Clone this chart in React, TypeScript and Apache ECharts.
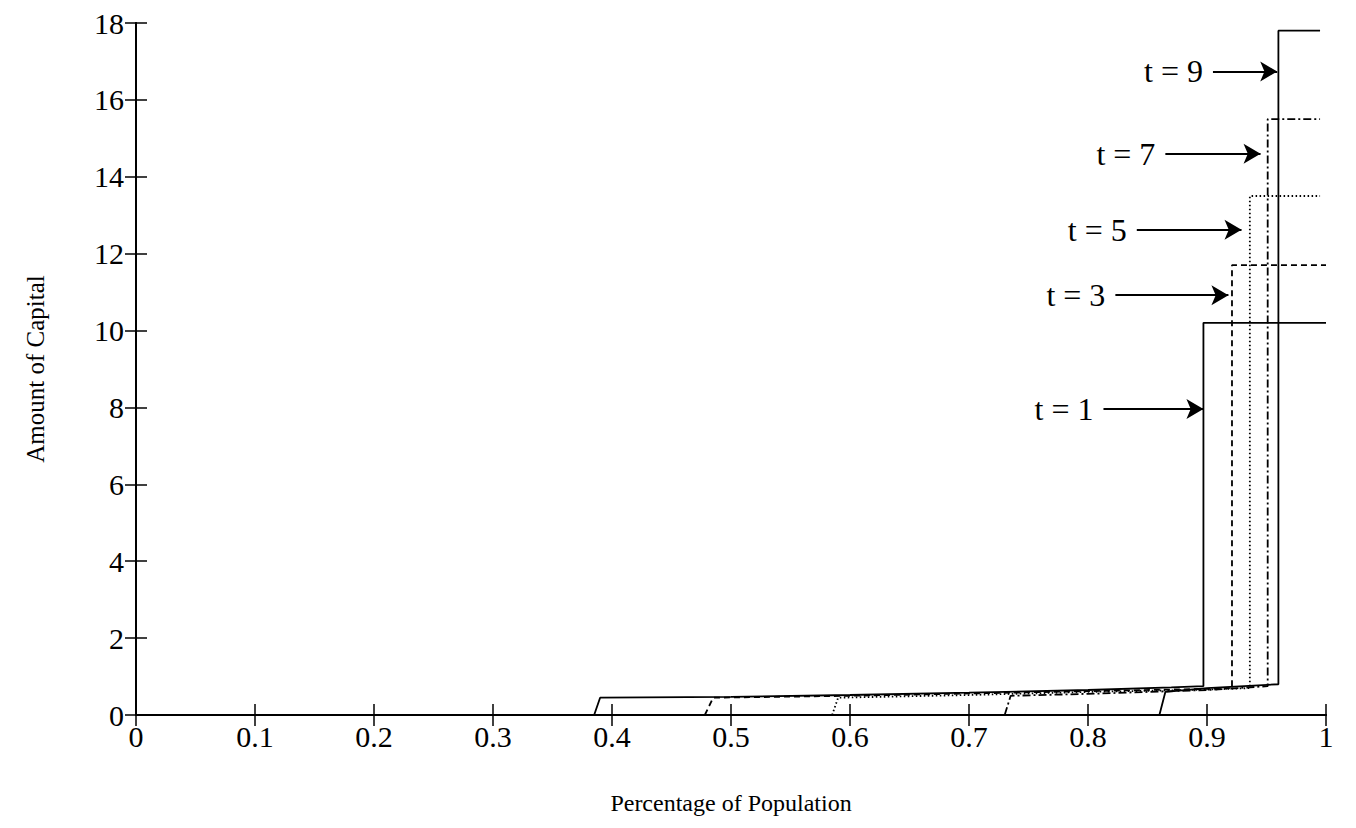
import React, { useEffect, useRef } from "react";
import * as echarts from "echarts";

const xTicks = [0, 0.1, 0.2, 0.3, 0.4, 0.5, 0.6, 0.7, 0.8, 0.9, 1];
const yTicks = [0, 2, 4, 6, 8, 10, 12, 14, 16, 18];

const t1: number[][] = [[0.385, 0], [0.39, 0.45], [0.5, 0.47], [0.6, 0.52], [0.7, 0.58], [0.8, 0.65], [0.87, 0.72], [0.897, 0.75], [0.897, 10.2], [1.0, 10.2]];
const t3: number[][] = [[0.478, 0], [0.485, 0.45], [0.6, 0.5], [0.7, 0.56], [0.8, 0.62], [0.9, 0.68], [0.921, 0.7], [0.921, 11.7], [1.0, 11.7]];
const t5: number[][] = [[0.585, 0], [0.59, 0.45], [0.7, 0.52], [0.8, 0.6], [0.9, 0.66], [0.936, 0.7], [0.936, 13.5], [0.995, 13.5]];
const t7: number[][] = [[0.73, 0], [0.735, 0.5], [0.8, 0.55], [0.9, 0.65], [0.951, 0.75], [0.951, 15.5], [0.995, 15.5]];
const t9: number[][] = [[0.86, 0], [0.865, 0.6], [0.9, 0.7], [0.96, 0.8], [0.96, 17.8], [0.995, 17.8]];

const arrowLabels = ["t = 1", "t = 3", "t = 5", "t = 7", "t = 9"];
const arrowStartX = [0.813, 0.823, 0.841, 0.865, 0.905];
const arrowEndX = [0.897, 0.918, 0.929, 0.945, 0.959];
const arrowY = [7.96, 10.92, 12.62, 14.6, 16.74];

const FONT = "Liberation Serif";

export default function App() {
  const ref = useRef<HTMLDivElement>(null);
  useEffect(() => {
    if (!ref.current) return;
    const chart = echarts.init(ref.current, null, { renderer: "svg" });
    const lineStyleBase = { color: "#000", width: 1.8 };
    const mk = (data: number[][], type: any) => ({
      type: "line",
      data,
      showSymbol: false,
      symbol: "none",
      lineStyle: { ...lineStyleBase, type },
      silent: true,
    });
    const axisCommon = {
      axisLine: { show: true, lineStyle: { color: "#000", width: 2 } },
      axisTick: { show: true, inside: true, length: 11, lineStyle: { color: "#000", width: 1.5 } },
      splitLine: { show: false },
    };
    chart.setOption({
      animation: false,
      backgroundColor: "#fff",
      grid: { left: 128, right: 22, top: 10, bottom: 103, containLabel: false },
      xAxis: [
        {
          type: "value",
          min: 0,
          max: 1,
          interval: 0.1,
          position: "bottom",
          ...axisCommon,
          axisLabel: {
            color: "#000",
            fontFamily: FONT,
            fontSize: 30,
            margin: 6,
            formatter: (v: number) => {
              const r = Math.round(v * 10) / 10;
              return xTicks.includes(r) ? String(r) : "";
            },
          },
          name: "Percentage of Population",
          nameLocation: "middle",
          nameGap: 76,
          nameTextStyle: { color: "#000", fontFamily: FONT, fontSize: 24 },
        },
        {
          type: "value",
          min: 0,
          max: 1,
          interval: 0.1,
          position: "top",
          ...axisCommon,
          axisLabel: { show: false },
        },
      ],
      yAxis: [
        {
          type: "value",
          min: 0,
          max: 18,
          interval: 2,
          position: "left",
          ...axisCommon,
          axisLabel: {
            color: "#000",
            fontFamily: FONT,
            fontSize: 30,
            margin: 12,
            formatter: (v: number) => (yTicks.includes(v) ? String(v) : ""),
          },
          name: "Amount of Capital",
          nameLocation: "middle",
          nameGap: 88,
          nameTextStyle: { color: "#000", fontFamily: FONT, fontSize: 25 },
        },
        {
          type: "value",
          min: 0,
          max: 18,
          interval: 2,
          position: "right",
          ...axisCommon,
          axisLabel: { show: false },
        },
      ],
      series: [
        mk(t1, "solid"),
        mk(t3, [6, 4]),
        mk(t5, [1.5, 2.5]),
        mk(t7, [8, 3, 2, 3]),
        {
          ...mk(t9, "solid"),
          markLine: {
            silent: true,
            symbol: ["none", "arrow"],
            symbolSize: [15, 17],
            lineStyle: { color: "#000", width: 2.2, type: "solid" },
            label: {
              show: true,
              position: "start",
              distance: 10,
              color: "#000",
              fontFamily: FONT,
              fontSize: 32,
              formatter: (p: any) => p.name,
            },
            data: arrowLabels.map((lab, i) => [
              { name: lab, coord: [arrowStartX[i], arrowY[i]] },
              { coord: [arrowEndX[i], arrowY[i]] },
            ]),
          },
        },
      ],
    });
    return () => chart.dispose();
  }, []);
  return <div ref={ref} style={{ width: 1340, height: 812 }} />;
}
